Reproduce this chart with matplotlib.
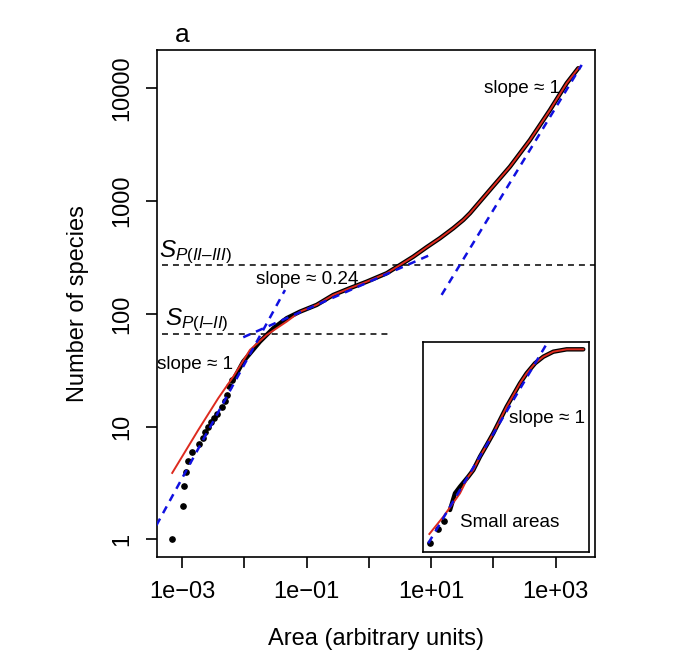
import numpy as np
import matplotlib
matplotlib.use("Agg")
import matplotlib.pyplot as plt

plt.rcParams['font.family'] = ['Liberation Sans', 'DejaVu Sans']
plt.rcParams['mathtext.fontset'] = 'custom'
plt.rcParams['mathtext.it'] = 'Liberation Sans:italic'
plt.rcParams['mathtext.rm'] = 'Liberation Sans'
plt.rcParams['lines.scale_dashes'] = False

# --- sparse observed points at the smallest areas ---
dot_area = [6.9e-4, 1.01e-3, 1.08e-3, 1.15e-3, 1.22e-3, 1.45e-3, 1.87e-3, 2.17e-3,
            2.34e-3, 2.56e-3, 2.89e-3, 3.2e-3, 3.65e-3, 4.3e-3, 4.85e-3, 5.28e-3,
            5.62e-3, 6.2e-3]
dot_species = [1, 2, 3, 4, 5, 6, 7, 8, 9, 10, 11, 12, 13, 15, 17, 19, 23, 26]

# --- dense observed curve ---
curve_area = [6.61e-3, 9.55e-3, 0.0177, 0.029, 0.0476, 0.0778, 0.1444, 0.267, 0.491,
              0.918, 1.93, 3.16, 5.16, 8.46, 13.8, 22.6, 32.8, 42.0, 88.0, 184.5,
              387, 811, 1504, 2310]
curve_species = [26.0, 37.8, 56.8, 74.6, 91.6, 104.7, 120.2, 147.3, 169, 193, 229.6,
                 271.8, 322, 390.8, 469, 575, 682, 782, 1259, 2024, 3490, 6440,
                 11120, 15110]

# --- fitted model (red); lower part departs from the data ---
model_low_area = [6.9e-4, 1.81e-3, 3.79e-3, 6.6e-3, 0.01225, 0.0227, 0.0476]
model_low_species = [3.89, 9.36, 17.9, 27.8, 48, 65.1, 85.5]
model_area = model_low_area + curve_area[5:] + [2472]
model_species = model_low_species + curve_species[5:] + [15600]

# --- power-law asymptotes (blue dashed), endpoints ---
fit1_area, fit1_species = [3.0e-4, 0.0448], [1.04, 163]
fit2_area, fit2_species = [0.00955, 10.2], [62.1, 338.6]
fit3_area, fit3_species = [14.7, 2620], [147.5, 16150]

# --- transition levels ---
sp_12 = 66.5
sp_23 = 270
sp_12_range = [4.7e-4, 2.18]
sp_23_range = [4.67e-4, 1e5]

# --- inset: small areas ---
in_dot_area = [1.45e-4, 2.30e-4, 3.21e-4]
in_dot_species = [1.0, 1.6, 2.1]
in_curve_area = [4.40e-4, 5.81e-4, 7.66e-4, 1.21e-3, 1.60e-3, 2.32e-3, 3.37e-3,
                 4.86e-3, 7.05e-3, 0.0102, 0.01476, 0.0214, 0.031, 0.0492, 0.078,
                 0.136, 0.285, 0.716]
in_curve_species = [3.0, 5.2, 6.47, 9.0, 11.2, 17.4, 25.6, 37.7, 58.4, 90.5, 133,
                    196, 273, 379, 471, 556, 601, 601]
in_model_area = [1.40e-4, 3.03e-4] + in_curve_area[2:]
in_model_species = [1.36, 2.4, 5.2] + in_curve_species[3:]
in_fit_area, in_fit_species = [1.32e-4, 0.0906], [1.0, 693]

red = '#dd2a1e'
blue = '#1010e0'

fig = plt.figure(figsize=(6.8, 6.61), dpi=100)
ax = fig.add_axes([0.2304, 0.1566, 0.6446, 0.7678])

ax.plot(curve_area, curve_species, color='black', lw=3.2, solid_capstyle='round', zorder=2)
ax.plot(dot_area, dot_species, 'o', color='black', ms=3.8, zorder=2)
ax.plot(model_area, model_species, color=red, lw=1.4, zorder=3)
for xa, ys in [(fit1_area, fit1_species), (fit2_area, fit2_species), (fit3_area, fit3_species)]:
    ax.plot(xa, ys, color=blue, lw=1.8, dashes=(5.5, 4.5), zorder=4)
ax.plot(sp_12_range, [sp_12, sp_12], color='black', lw=1.1, dashes=(4.3, 3.6), zorder=1)
ax.plot(sp_23_range, [sp_23, sp_23], color='black', lw=1.1, dashes=(4.3, 3.6), zorder=1)

ax.set_xscale('log')
ax.set_yscale('log')
ax.set_xlim(10 ** -3.411, 10 ** 3.632)
ax.set_ylim(10 ** -0.16, 10 ** 4.341)
ax.set_xticks([1e-3, 1e-2, 1e-1, 1, 1e1, 1e2, 1e3])
ax.set_xticklabels(['1e\u221203', '', '1e\u221201', '', '1e+01', '', '1e+03'])
ax.set_yticks([1, 10, 100, 1000, 10000])
ax.set_yticklabels(['1', '10', '100', '1000', '10000'], rotation=90, va='center')
ax.minorticks_off()
ax.tick_params(axis='both', length=8, width=1.2, labelsize=17)
ax.tick_params(axis='x', pad=9)
ax.tick_params(axis='y', pad=9)
for s in ax.spines.values():
    s.set_linewidth(1.2)

ax.set_xlabel('Area (arbitrary units)', fontsize=17, labelpad=18)
ax.set_ylabel('Number of species', fontsize=17, labelpad=16)
fig.text(0.257, 0.936, 'a', fontsize=19, ha='left', va='baseline')

ax.text(10 ** -3.37, 10 ** 2.506, '$S_{P(II\u2013III)}$', fontsize=17.5, ha='left', va='baseline')
ax.text(10 ** -3.278, 10 ** 1.902, '$S_{P(I\u2013II)}$', fontsize=17.5, ha='left', va='baseline')
ax.text(10 ** -1.0, 10 ** 2.308, 'slope \u2248 0.24', fontsize=13.6, ha='center', va='center')
ax.text(10 ** -2.796, 10 ** 1.548, 'slope \u2248 1', fontsize=13.6, ha='center', va='center')
ax.text(10 ** 2.454, 10 ** 4.002, 'slope \u2248 1', fontsize=13.6, ha='center', va='center')

# inset
ins = fig.add_axes([0.6225, 0.1654, 0.2441, 0.3168])
ins.plot(in_curve_area, in_curve_species, color='black', lw=3.2, solid_capstyle='round')
ins.plot(in_dot_area, in_dot_species, 'o', color='black', ms=3.8)
ins.plot(in_model_area, in_model_species, color=red, lw=1.4)
ins.plot(in_fit_area, in_fit_species, color=blue, lw=1.8, dashes=(5.5, 4.5))
ins.set_xscale('log')
ins.set_yscale('log')
ins.set_xlim(1e-4, 1)
ins.set_ylim(10 ** -0.12, 10 ** 2.88)
ins.set_xticks([])
ins.set_yticks([])
ins.minorticks_off()
for s in ins.spines.values():
    s.set_linewidth(1.2)
ins.text(10 ** -1.008, 10 ** 1.791, 'slope \u2248 1', fontsize=13.6, ha='center', va='center')
ins.text(10 ** -1.918, 10 ** 0.295, 'Small areas', fontsize=13.6, ha='center', va='center')

fig.savefig('out.png', dpi=100)
